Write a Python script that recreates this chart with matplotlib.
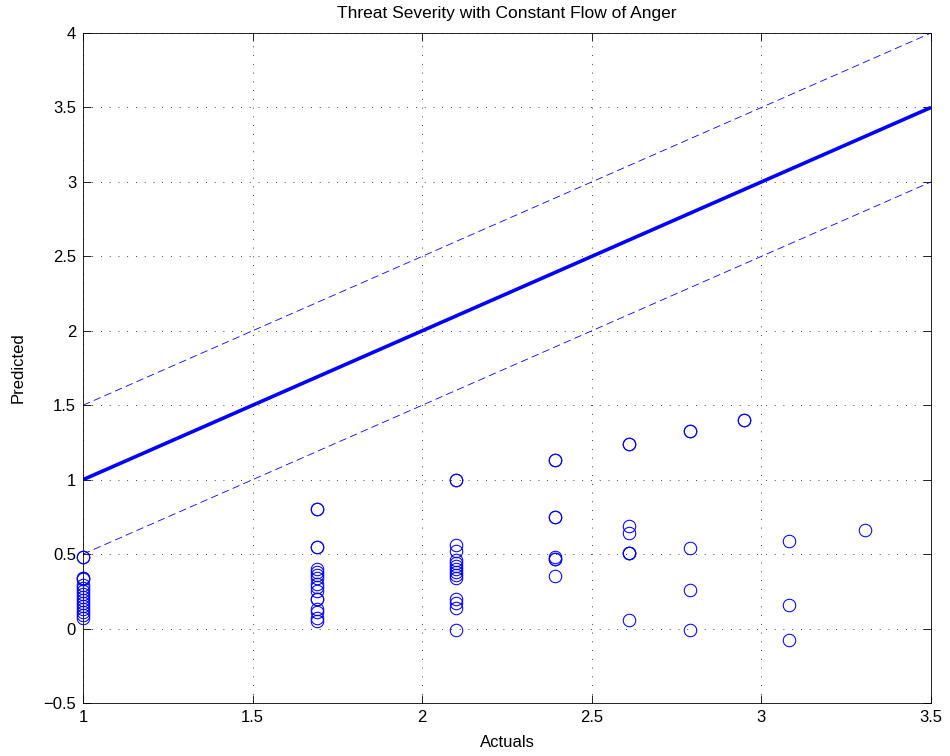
import numpy as np
import matplotlib
matplotlib.use("Agg")
import matplotlib.pyplot as plt

plt.rcParams['font.family'] = ['Liberation Sans', 'DejaVu Sans']

# Observed (actual) scores and model predictions; repeated pairs are listed twice
actual_levels = [1.00, 1.69, 2.10, 2.39, 2.61, 2.79, 2.95, 3.08, 3.305]
predicted = {
    1.00: [0.48, 0.48, 0.34, 0.34, 0.33, 0.29, 0.27, 0.25, 0.23, 0.21, 0.19,
           0.17, 0.15, 0.13, 0.11, 0.09, 0.07],
    1.69: [0.80, 0.80, 0.55, 0.55, 0.40, 0.38, 0.36, 0.34, 0.30, 0.28, 0.25,
           0.20, 0.20, 0.13, 0.11, 0.07, 0.05],
    2.10: [1.00, 1.00, 0.56, 0.52, 0.46, 0.44, 0.42, 0.40, 0.38, 0.36, 0.34,
           0.20, 0.17, 0.14, -0.01],
    2.39: [1.13, 1.13, 0.75, 0.75, 0.48, 0.47, 0.47, 0.35],
    2.61: [1.24, 1.24, 0.69, 0.64, 0.51, 0.51, 0.51, 0.06],
    2.79: [1.33, 1.33, 0.54, 0.26, -0.01],
    2.95: [1.40, 1.40],
    3.08: [0.59, 0.16, -0.08],
    3.305: [0.66],
}

# Reference lines: perfect prediction and +/- 0.5 band
band_offsets = [0.5, -0.5]
line_x = np.array([1.0, 3.5])

x_ticks = [1, 1.5, 2, 2.5, 3, 3.5]
y_ticks = [-0.5, 0, 0.5, 1, 1.5, 2, 2.5, 3, 3.5, 4]

fig = plt.figure(figsize=(9.5, 7.56), dpi=100)
ax = fig.add_axes([0.0874, 0.0701, 0.8926, 0.8862])

xs, ys = [], []
for a in actual_levels:
    for p in predicted[a]:
        xs.append(a)
        ys.append(p)

ax.plot(xs, ys, linestyle='none', marker='o', markersize=9,
        markerfacecolor='none', markeredgecolor='blue', markeredgewidth=0.75,
        clip_on=False, zorder=4)

ax.plot(line_x, line_x, color='blue', linewidth=2.6, solid_capstyle='butt')
for off in band_offsets:
    ax.plot(line_x, line_x + off, color='blue', linewidth=0.6,
            linestyle=(0, (9, 5)))

ax.set_xlim(1, 3.5)
ax.set_ylim(-0.5, 4)
ax.set_xticks(x_ticks)
ax.set_yticks(y_ticks)
ax.set_xticklabels(['1', '1.5', '2', '2.5', '3', '3.5'])
ax.set_yticklabels(['\u22120.5', '0', '0.5', '1', '1.5', '2', '2.5', '3', '3.5', '4'])

ax.grid(True, color='black', linestyle=(0, (1, 9.5)), linewidth=0.6)
ax.tick_params(direction='in', length=6, width=0.6, top=True, right=True,
               labelsize=12, pad=5)
for s in ax.spines.values():
    s.set_linewidth(0.6)

ax.set_title('Threat Severity with Constant Flow of Anger', fontsize=12.5, pad=11)
ax.set_xlabel('Actuals', fontsize=12, labelpad=7)
ax.set_ylabel('Predicted', fontsize=12, labelpad=13)

fig.savefig('out.png', dpi=100)
